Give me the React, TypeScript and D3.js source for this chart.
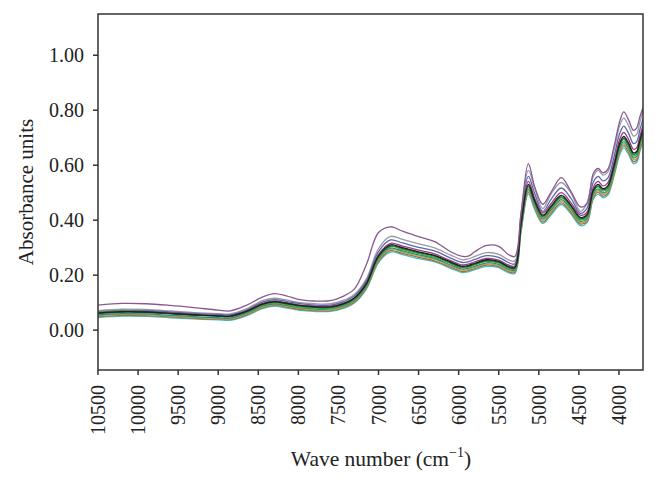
import * as d3 from "d3";

const W = 658
const H = 483

// wave numbers (cm-1) sampled along the spectra
const waveNumbers = [10500, 10200, 9900, 9600, 9300, 9000, 8850, 8650, 8450, 8300, 8150, 8000, 7800, 7600, 7450, 7300, 7150, 7000, 6850, 6700, 6500, 6300, 6100, 5950, 5870, 5800, 5650, 5500, 5380, 5300, 5220, 5130, 5050, 4950, 4850, 4720, 4600, 4480, 4400, 4320, 4260, 4200, 4140, 4060, 3990, 3940, 3880, 3820, 3780, 3740, 3700]

// absorbance of a few representative samples
const purpleTop = [0.091, 0.097, 0.096, 0.090, 0.082, 0.073, 0.070, 0.090, 0.120, 0.133, 0.125, 0.112, 0.106, 0.107, 0.122, 0.150, 0.240, 0.355, 0.376, 0.360, 0.340, 0.322, 0.285, 0.268, 0.270, 0.285, 0.308, 0.305, 0.275, 0.268, 0.430, 0.606, 0.520, 0.458, 0.500, 0.555, 0.505, 0.448, 0.460, 0.570, 0.588, 0.572, 0.585, 0.670, 0.760, 0.794, 0.765, 0.727, 0.735, 0.775, 0.810]
const greyUpper = [0.071, 0.076, 0.075, 0.070, 0.064, 0.060, 0.059, 0.077, 0.107, 0.116, 0.110, 0.101, 0.096, 0.096, 0.107, 0.131, 0.188, 0.297, 0.341, 0.330, 0.314, 0.299, 0.273, 0.256, 0.260, 0.268, 0.282, 0.276, 0.256, 0.252, 0.428, 0.581, 0.515, 0.442, 0.494, 0.537, 0.499, 0.432, 0.461, 0.559, 0.581, 0.564, 0.575, 0.657, 0.744, 0.771, 0.744, 0.706, 0.712, 0.755, 0.799]
const blueUpper = [0.067, 0.072, 0.071, 0.066, 0.061, 0.057, 0.056, 0.073, 0.102, 0.111, 0.105, 0.097, 0.091, 0.091, 0.102, 0.125, 0.181, 0.286, 0.328, 0.317, 0.301, 0.288, 0.262, 0.246, 0.250, 0.257, 0.271, 0.265, 0.246, 0.241, 0.412, 0.559, 0.496, 0.432, 0.475, 0.517, 0.480, 0.425, 0.443, 0.538, 0.559, 0.543, 0.553, 0.632, 0.716, 0.742, 0.716, 0.679, 0.685, 0.727, 0.769]
const magenta = [0.063, 0.068, 0.067, 0.062, 0.057, 0.053, 0.052, 0.069, 0.097, 0.106, 0.100, 0.092, 0.087, 0.087, 0.097, 0.119, 0.173, 0.275, 0.316, 0.306, 0.291, 0.277, 0.253, 0.237, 0.241, 0.248, 0.261, 0.255, 0.237, 0.233, 0.398, 0.541, 0.479, 0.426, 0.459, 0.500, 0.464, 0.418, 0.428, 0.520, 0.541, 0.525, 0.536, 0.612, 0.694, 0.719, 0.694, 0.658, 0.663, 0.704, 0.745]
const black = [0.062, 0.067, 0.066, 0.061, 0.056, 0.052, 0.051, 0.068, 0.095, 0.104, 0.098, 0.090, 0.085, 0.085, 0.095, 0.117, 0.170, 0.270, 0.310, 0.300, 0.285, 0.272, 0.248, 0.232, 0.236, 0.243, 0.256, 0.250, 0.232, 0.228, 0.390, 0.530, 0.470, 0.418, 0.450, 0.490, 0.455, 0.410, 0.420, 0.510, 0.530, 0.515, 0.525, 0.600, 0.680, 0.705, 0.680, 0.645, 0.650, 0.690, 0.730]
const darkGreen = [0.060, 0.065, 0.064, 0.059, 0.054, 0.050, 0.049, 0.066, 0.093, 0.102, 0.096, 0.088, 0.083, 0.083, 0.093, 0.115, 0.167, 0.267, 0.306, 0.297, 0.282, 0.269, 0.245, 0.229, 0.233, 0.240, 0.253, 0.247, 0.229, 0.225, 0.386, 0.525, 0.466, 0.414, 0.446, 0.485, 0.451, 0.406, 0.416, 0.505, 0.525, 0.510, 0.520, 0.595, 0.674, 0.699, 0.674, 0.640, 0.645, 0.684, 0.724]
const green = [0.066, 0.070, 0.068, 0.062, 0.057, 0.053, 0.052, 0.064, 0.090, 0.099, 0.093, 0.085, 0.080, 0.080, 0.090, 0.112, 0.165, 0.263, 0.303, 0.293, 0.278, 0.265, 0.242, 0.226, 0.230, 0.237, 0.250, 0.244, 0.226, 0.222, 0.382, 0.521, 0.461, 0.410, 0.441, 0.481, 0.446, 0.402, 0.412, 0.501, 0.521, 0.506, 0.516, 0.590, 0.669, 0.694, 0.669, 0.634, 0.639, 0.679, 0.718]
const teal = [0.055, 0.060, 0.059, 0.054, 0.049, 0.045, 0.044, 0.061, 0.087, 0.096, 0.090, 0.082, 0.077, 0.077, 0.087, 0.109, 0.161, 0.259, 0.298, 0.288, 0.274, 0.261, 0.237, 0.222, 0.226, 0.232, 0.245, 0.239, 0.222, 0.218, 0.377, 0.514, 0.455, 0.404, 0.436, 0.475, 0.441, 0.396, 0.406, 0.495, 0.514, 0.499, 0.509, 0.583, 0.661, 0.686, 0.661, 0.627, 0.632, 0.671, 0.711]
const olive = [0.052, 0.057, 0.056, 0.051, 0.046, 0.042, 0.041, 0.058, 0.084, 0.093, 0.087, 0.079, 0.074, 0.074, 0.084, 0.106, 0.157, 0.255, 0.294, 0.284, 0.269, 0.257, 0.233, 0.218, 0.222, 0.228, 0.241, 0.235, 0.218, 0.214, 0.372, 0.508, 0.449, 0.399, 0.430, 0.469, 0.435, 0.391, 0.401, 0.488, 0.508, 0.493, 0.503, 0.576, 0.654, 0.678, 0.654, 0.620, 0.625, 0.664, 0.703]
const brown = [0.049, 0.054, 0.053, 0.048, 0.043, 0.040, 0.039, 0.055, 0.081, 0.090, 0.084, 0.076, 0.071, 0.071, 0.081, 0.102, 0.154, 0.250, 0.289, 0.279, 0.265, 0.252, 0.229, 0.213, 0.217, 0.224, 0.237, 0.231, 0.213, 0.210, 0.366, 0.502, 0.444, 0.393, 0.424, 0.463, 0.429, 0.386, 0.395, 0.482, 0.502, 0.487, 0.497, 0.569, 0.647, 0.671, 0.647, 0.613, 0.618, 0.656, 0.695]
const cyan = [0.046, 0.051, 0.050, 0.045, 0.041, 0.037, 0.036, 0.052, 0.078, 0.087, 0.081, 0.073, 0.068, 0.068, 0.078, 0.099, 0.150, 0.246, 0.284, 0.275, 0.260, 0.248, 0.225, 0.209, 0.213, 0.220, 0.232, 0.227, 0.209, 0.206, 0.361, 0.495, 0.438, 0.388, 0.418, 0.457, 0.423, 0.380, 0.390, 0.476, 0.495, 0.481, 0.490, 0.562, 0.639, 0.663, 0.639, 0.606, 0.610, 0.649, 0.687]

// drawn in this order, last on top
const spectra = [
    { values: greyUpper, color: '#9a9aa8' },
    { values: blueUpper, color: '#5a6aa8' },
    { values: cyan, color: '#3fc4c4' },
    { values: brown, color: '#a8683c' },
    { values: olive, color: '#b0a25a' },
    { values: teal, color: '#2a8c86' },
    { values: green, color: '#44b038' },
    { values: magenta, color: '#9a3a8a' },
    { values: darkGreen, color: '#1e6a2a' },
    { values: black, color: '#202020' },
    { values: purpleTop, color: '#8a5890' },
]

const xTicks = [10500, 10000, 9500, 9000, 8500, 8000, 7500, 7000, 6500, 6000, 5500, 5000, 4500, 4000]
const yTicks = [0, 0.2, 0.4, 0.6, 0.8, 1.0]

const font = '"Liberation Serif", "Times New Roman", serif'

export default function App() {
    const margin = { left: 98, top: 14, right: 643, bottom: 370 }

    const scX = d3.scaleLinear().domain([ 10500, 3700 ]).range([ margin.left, margin.right ])
    const scY = d3.scaleLinear().domain([ -0.145, 1.15 ]).range([ margin.bottom, margin.top ])

    const line = d3.line<number>()
        .x((_, i) => scX(waveNumbers[i]))
        .y(d => scY(d))
        .curve(d3.curveCatmullRom.alpha(0.5))

    const axisColor = '#333'

    return (
        <svg width={W} height={H} style={{ position: 'absolute', left: 0, top: 0, background: '#fff' }}
            fontFamily={font}>
            <defs>
                <clipPath id="plot-clip">
                    <rect x={margin.left} y={margin.top} width={margin.right - margin.left} height={margin.bottom - margin.top} />
                </clipPath>
            </defs>
            <g clipPath="url(#plot-clip)" fill="none">
                {spectra.map((s, i) => (
                    <path key={i} d={line(s.values) ?? ''} stroke={s.color} strokeWidth={1.3} />
                ))}
            </g>
            <rect x={margin.left} y={margin.top} width={margin.right - margin.left} height={margin.bottom - margin.top}
                fill="none" stroke={axisColor} strokeWidth={1.5} />
            {/* x axis */}
            {xTicks.map(t => (
                <g key={t} transform={`translate(${scX(t)}, ${margin.bottom})`}>
                    <line y2={5} stroke={axisColor} strokeWidth={1.5} />
                    <text transform="translate(0, 15) rotate(-90)" textAnchor="end" dominantBaseline="central"
                        fontSize={20} fill="#222">{t}</text>
                </g>
            ))}
            {/* y axis */}
            {yTicks.map(t => (
                <g key={t} transform={`translate(${margin.left}, ${scY(t)})`}>
                    <line x2={-5} stroke={axisColor} strokeWidth={1.5} />
                    <text x={-14} textAnchor="end" dominantBaseline="central" fontSize={20} fill="#222">{t.toFixed(2)}</text>
                </g>
            ))}
            <text transform={`translate(33, ${(margin.top + margin.bottom) / 2}) rotate(-90)`} textAnchor="middle"
                fontSize={21} fill="#222">Absorbance units</text>
            <text x={381} y={466} textAnchor="middle" fontSize={21.5} fill="#222">
                Wave number (cm<tspan fontSize={14} dy={-9}>−1</tspan><tspan dy={9}>)</tspan>
            </text>
        </svg>
    )
}
